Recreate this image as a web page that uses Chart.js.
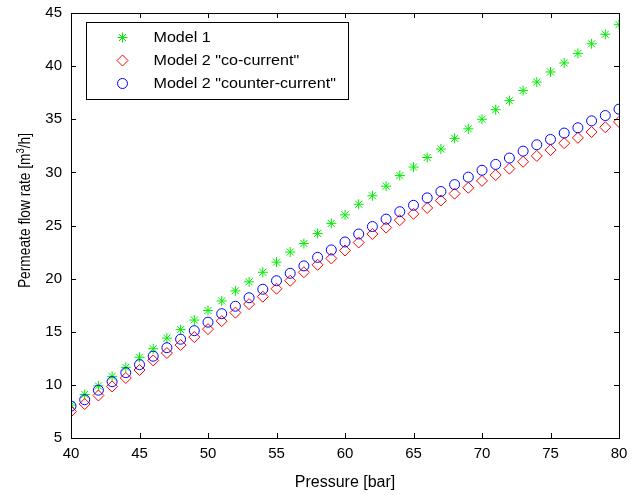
<!DOCTYPE html>
<html>
<head>
<meta charset="utf-8">
<script src="https://cdn.jsdelivr.net/npm/chart.js@4/dist/chart.umd.min.js"></script>
<style>
  body { margin: 0; background: #fff; }
  #wrap { width: 634px; height: 495px; }
</style>
</head>
<body>
<div id="wrap"><canvas id="flowChart" width="634" height="495"></canvas></div>
<script>
// Pressure [bar]
const pressure = [40, 41, 42, 43, 44, 45, 46, 47, 48, 49, 50, 51, 52, 53, 54, 55, 56, 57, 58, 59, 60,
                  61, 62, 63, 64, 65, 66, 67, 68, 69, 70, 71, 72, 73, 74, 75, 76, 77, 78, 79, 80];

// Permeate flow rate [m3/h]
const model1 = [8.1, 9.1, 9.9, 10.8, 11.65, 12.6, 13.4, 14.4, 15.2, 16.1, 17.0, 17.9, 18.85, 19.7, 20.6, 21.55, 22.5, 23.3, 24.25, 25.2, 26.0,
                27.0, 27.8, 28.7, 29.7, 30.5, 31.4, 32.2, 33.2, 34.1, 35.0, 35.9, 36.75, 37.7, 38.5, 39.45, 40.3, 41.2, 42.1, 43.0, 43.9];
const coCurrent = [7.5, 8.2, 9.0, 9.85, 10.65, 11.4, 12.3, 13.0, 13.75, 14.5, 15.25, 16.0, 16.8, 17.6, 18.3, 19.05, 19.8, 20.6, 21.3, 21.9, 22.65,
                   23.4, 24.2, 24.8, 25.5, 26.1, 26.65, 27.35, 28.0, 28.55, 29.2, 29.75, 30.35, 31.0, 31.55, 32.1, 32.75, 33.25, 33.8, 34.25, 34.75];
const counterCurrent = [8.0, 8.6, 9.5, 10.3, 11.15, 11.9, 12.7, 13.5, 14.3, 15.1, 15.9, 16.7, 17.4, 18.2, 19.0, 19.8, 20.5, 21.2, 22.0, 22.7, 23.45,
                        24.2, 24.9, 25.6, 26.3, 26.9, 27.6, 28.2, 28.85, 29.55, 30.2, 30.75, 31.35, 32.0, 32.6, 33.1, 33.7, 34.2, 34.85, 35.35, 35.95];

const seriesNames = ['Model 1', 'Model 2 "co-current"', 'Model 2 "counter-current"'];
const xTicks = [40, 45, 50, 55, 60, 65, 70, 75, 80];
const yTicks = [5, 10, 15, 20, 25, 30, 35, 40, 45];

const fontFamily = '"Liberation Sans", Arial, sans-serif';

function toPoints(values) {
    return pressure.map((p, i) => ({ x: p, y: values[i] }));
}

// Boîte autour du graphique + graduations vers l'intérieur (style MATLAB)
const boxPlugin = {
    id: 'boxPlugin',
    afterDatasetsDraw(chart) {
        const ctx = chart.ctx;
        const a = chart.chartArea;
        const xs = chart.scales.x;
        const ys = chart.scales.y;
        const len = 5;
        ctx.save();
        ctx.strokeStyle = '#000';
        ctx.lineWidth = 1;
        ctx.beginPath();
        xTicks.forEach(v => {
            const px = Math.round(xs.getPixelForValue(v)) + 0.5;
            ctx.moveTo(px, a.bottom); ctx.lineTo(px, a.bottom - len);
            ctx.moveTo(px, a.top); ctx.lineTo(px, a.top + len);
        });
        yTicks.forEach(v => {
            const py = Math.round(ys.getPixelForValue(v)) + 0.5;
            ctx.moveTo(a.left, py); ctx.lineTo(a.left + len, py);
            ctx.moveTo(a.right, py); ctx.lineTo(a.right - len, py);
        });
        ctx.stroke();
        ctx.strokeRect(Math.round(a.left) + 0.5, Math.round(a.top) + 0.5,
                       Math.round(a.right - a.left), Math.round(a.bottom - a.top));
        ctx.restore();
    }
};

// Titre de l'axe Y avec exposant (m³/h)
const yTitlePlugin = {
    id: 'yTitle',
    afterDraw(chart) {
        const ctx = chart.ctx;
        const a = chart.chartArea;
        const p1 = 'Permeate flow rate [m', p2 = '3', p3 = '/h]';
        ctx.save();
        ctx.translate(30, (a.top + a.bottom) / 2 - 15);
        ctx.rotate(-Math.PI / 2);
        ctx.scale(0.86, 1);
        ctx.fillStyle = '#000';
        ctx.textBaseline = 'alphabetic';
        ctx.font = '16px ' + fontFamily;
        const w1 = ctx.measureText(p1).width, w3 = ctx.measureText(p3).width;
        ctx.font = '11px ' + fontFamily;
        const w2 = ctx.measureText(p2).width;
        let x = -(w1 + w2 + w3) / 2;
        ctx.font = '16px ' + fontFamily;
        ctx.fillText(p1, x, 0);
        x += w1;
        ctx.font = '11px ' + fontFamily;
        ctx.fillText(p2, x, -6);
        x += w2;
        ctx.font = '16px ' + fontFamily;
        ctx.fillText(p3, x, 0);
        ctx.restore();
    }
};

// Légende dans le coin supérieur gauche
const legendPlugin = {
    id: 'legendBox',
    afterDraw(chart) {
        const ctx = chart.ctx;
        const a = chart.chartArea;
        const bx = a.left + 15.5, by = a.top + 9.5, bw = 262, bh = 77;
        ctx.save();
        ctx.fillStyle = '#fff';
        ctx.fillRect(bx, by, bw, bh);
        ctx.strokeStyle = '#000';
        ctx.lineWidth = 1;
        ctx.strokeRect(bx, by, bw, bh);
        ctx.font = '14px ' + fontFamily;
        ctx.textBaseline = 'middle';
        chart.data.datasets.forEach((ds, i) => {
            const cy = by + 15 + i * 23;
            const cx = bx + 36;
            const r = ds.pointRadius;
            ctx.strokeStyle = ds.borderColor;
            ctx.beginPath();
            if (ds.pointStyle === 'star') {
                ctx.moveTo(cx - r, cy); ctx.lineTo(cx + r, cy);
                ctx.moveTo(cx, cy - r); ctx.lineTo(cx, cy + r);
                const d = r * 0.7;
                ctx.moveTo(cx - d, cy - d); ctx.lineTo(cx + d, cy + d);
                ctx.moveTo(cx - d, cy + d); ctx.lineTo(cx + d, cy - d);
            } else if (ds.pointStyle === 'rectRot') {
                ctx.moveTo(cx, cy - r); ctx.lineTo(cx + r, cy);
                ctx.lineTo(cx, cy + r); ctx.lineTo(cx - r, cy); ctx.closePath();
            } else {
                ctx.arc(cx, cy, r, 0, Math.PI * 2);
            }
            ctx.stroke();
            ctx.save();
            ctx.translate(bx + 67, cy + 1);
            ctx.scale(1.15, 1);
            ctx.fillStyle = '#000';
            ctx.fillText(seriesNames[i], 0, 0);
            ctx.restore();
        });
        ctx.restore();
    }
};

const flowCtx = document.getElementById('flowChart').getContext('2d');
const flowChart = new Chart(flowCtx, {
    type: 'scatter',
    data: {
        datasets: [{
            label: seriesNames[0],
            data: toPoints(model1),
            pointStyle: 'star',
            pointRadius: 5,
            borderColor: '#00ee00',
            backgroundColor: 'transparent',
            borderWidth: 1,
            order: 3
        }, {
            label: seriesNames[1],
            data: toPoints(coCurrent),
            pointStyle: 'rectRot',
            pointRadius: 5.5,
            borderColor: '#ff0000',
            backgroundColor: 'transparent',
            borderWidth: 1,
            order: 2
        }, {
            label: seriesNames[2],
            data: toPoints(counterCurrent),
            pointStyle: 'circle',
            pointRadius: 5,
            borderColor: '#0000ff',
            backgroundColor: 'transparent',
            borderWidth: 1,
            order: 1
        }]
    },
    options: {
        responsive: false,
        animation: false,
        devicePixelRatio: 1,
        layout: {
            padding: { top: 13, right: 15, left: 0, bottom: 0 }
        },
        scales: {
            x: {
                type: 'linear',
                min: 40,
                max: 80,
                afterBuildTicks(scale) { scale.ticks = xTicks.map(v => ({ value: v })); },
                afterFit(scale) { scale.height = 57; scale.paddingLeft = 0; scale.paddingRight = 0; },
                grid: { display: false, drawTicks: false },
                border: { display: false },
                ticks: {
                    padding: 7,
                    color: '#000',
                    font: { size: 15, family: fontFamily },
                    maxRotation: 0
                },
                title: {
                    display: true,
                    text: 'Pressure [bar]',
                    color: '#000',
                    font: { size: 16, family: fontFamily },
                    padding: { top: 0, bottom: 3 }
                }
            },
            y: {
                type: 'linear',
                min: 5,
                max: 45,
                afterBuildTicks(scale) { scale.ticks = yTicks.map(v => ({ value: v })); },
                afterFit(scale) { scale.width = 71; scale.paddingTop = 0; scale.paddingBottom = 0; },
                grid: { display: false, drawTicks: false },
                border: { display: false },
                ticks: {
                    padding: 9,
                    color: '#000',
                    font: { size: 15, family: fontFamily }
                },
                title: { display: false }
            }
        },
        plugins: {
            legend: { display: false },
            tooltip: { enabled: false }
        }
    },
    plugins: [boxPlugin, yTitlePlugin, legendPlugin]
});
</script>
</body>
</html>
